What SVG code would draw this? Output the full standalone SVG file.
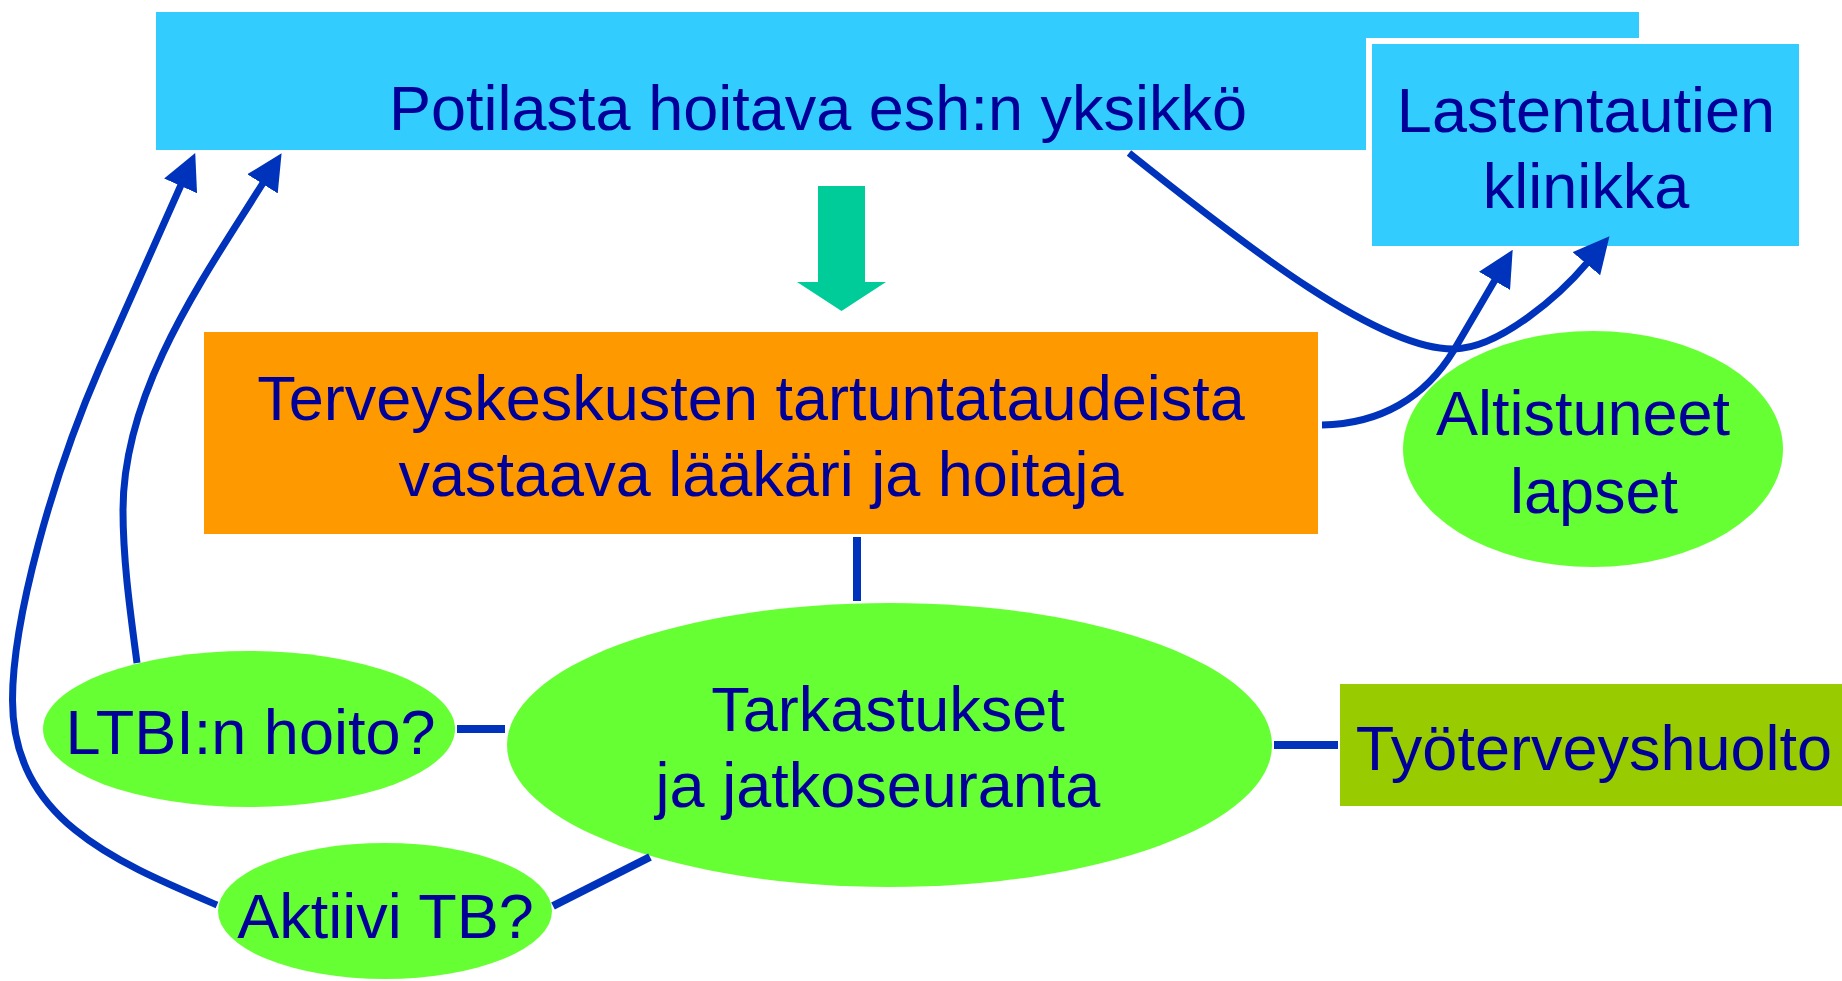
<svg xmlns="http://www.w3.org/2000/svg" width="1842" height="981" viewBox="0 0 1842 981">
<style>
  text { font-family: "Liberation Sans", Arial, sans-serif; font-size: 63px; fill: #000099; }
  .mid { text-anchor: middle; }
  .blue { fill: #33CCFF; }
  .green { fill: #66FF33; }
  .conn { fill: none; stroke: #0033BB; stroke-width: 7; }
  .straight { fill: none; stroke: #0033BB; stroke-width: 8; }
  .arrow { marker-end: url(#ah); }
</style>
<defs>
  <marker id="ah" markerUnits="userSpaceOnUse" markerWidth="36" markerHeight="36" viewBox="0 0 36 36" refX="1" refY="18" orient="auto">
    <path d="M0,0 L36,18 L0,36 Z" fill="#0033BB"/>
  </marker>
</defs>
<rect width="1842" height="981" fill="#FFFFFF"/>

<g id="node-potilasta">
  <rect class="blue" x="156" y="12" width="1483" height="138"/>
  <text class="mid" x="818" y="130">Potilasta hoitava esh:n yksikkö</text>
</g>

<g id="node-lastentautien">
  <rect x="1366" y="38" width="439" height="214" fill="#FFFFFF"/>
  <rect class="blue" x="1372" y="44" width="427" height="202"/>
  <text class="mid" x="1586" y="132">Lastentautien</text>
  <text class="mid" x="1586" y="208">klinikka</text>
</g>

<g id="big-arrow">
  <polygon points="818,186 865,186 865,282 886,282 841.5,311 797,282 818,282" fill="#00CC99"/>
</g>

<g id="node-terveyskeskus">
  <rect x="204" y="332" width="1114" height="202" fill="#FF9900"/>
  <text class="mid" x="751" y="420">Terveyskeskusten tartuntataudeista</text>
  <text class="mid" x="761" y="496">vastaava lääkäri ja hoitaja</text>
</g>

<g id="node-altistuneet">
  <ellipse class="green" cx="1593" cy="449" rx="190" ry="118"/>
  <text class="mid" x="1583" y="435">Altistuneet</text>
  <text class="mid" x="1594" y="513">lapset</text>
</g>

<g id="node-tarkastukset">
  <ellipse class="green" cx="889.5" cy="745" rx="382.5" ry="142"/>
  <text class="mid" x="888" y="731">Tarkastukset</text>
  <text class="mid" x="878" y="807">ja jatkoseuranta</text>
</g>

<g id="node-ltbi">
  <ellipse class="green" cx="249" cy="729" rx="206" ry="78"/>
  <text class="mid" x="250.5" y="754">LTBI:n hoito?</text>
</g>

<g id="node-aktiivi">
  <ellipse class="green" cx="385" cy="911" rx="167" ry="68"/>
  <text class="mid" x="385.5" y="938">Aktiivi TB?</text>
</g>

<g id="node-tyoterveys">
  <rect x="1340" y="684" width="502" height="122" fill="#99CC00"/>
  <text class="mid" x="1594" y="770">Työterveyshuolto</text>
</g>

<g id="connectors">
  <line class="straight" x1="857" y1="537" x2="857" y2="601"/>
  <line class="straight" x1="457" y1="729" x2="505" y2="729"/>
  <line class="straight" x1="1274" y1="745" x2="1338" y2="745"/>
  <line class="straight" x1="650" y1="857" x2="553" y2="906"/>
  <path class="conn arrow" d="M217,905 C116,862 12.5,820 12.5,700 C12.5,620 52,477 100,367 L181,185"/>
  <path class="conn arrow" d="M137,663 C130,610 123,560 123,510 C123,390 204.6,276.2 263,183"/>
  <path class="conn arrow" d="M1322,425 C1380,424 1425,398 1454,350 L1495,280"/>
  <path class="conn arrow" d="M1129,153 C1250,250 1380,350 1454,349 C1500,348.4 1561,294 1587,263"/>
</g>
</svg>
